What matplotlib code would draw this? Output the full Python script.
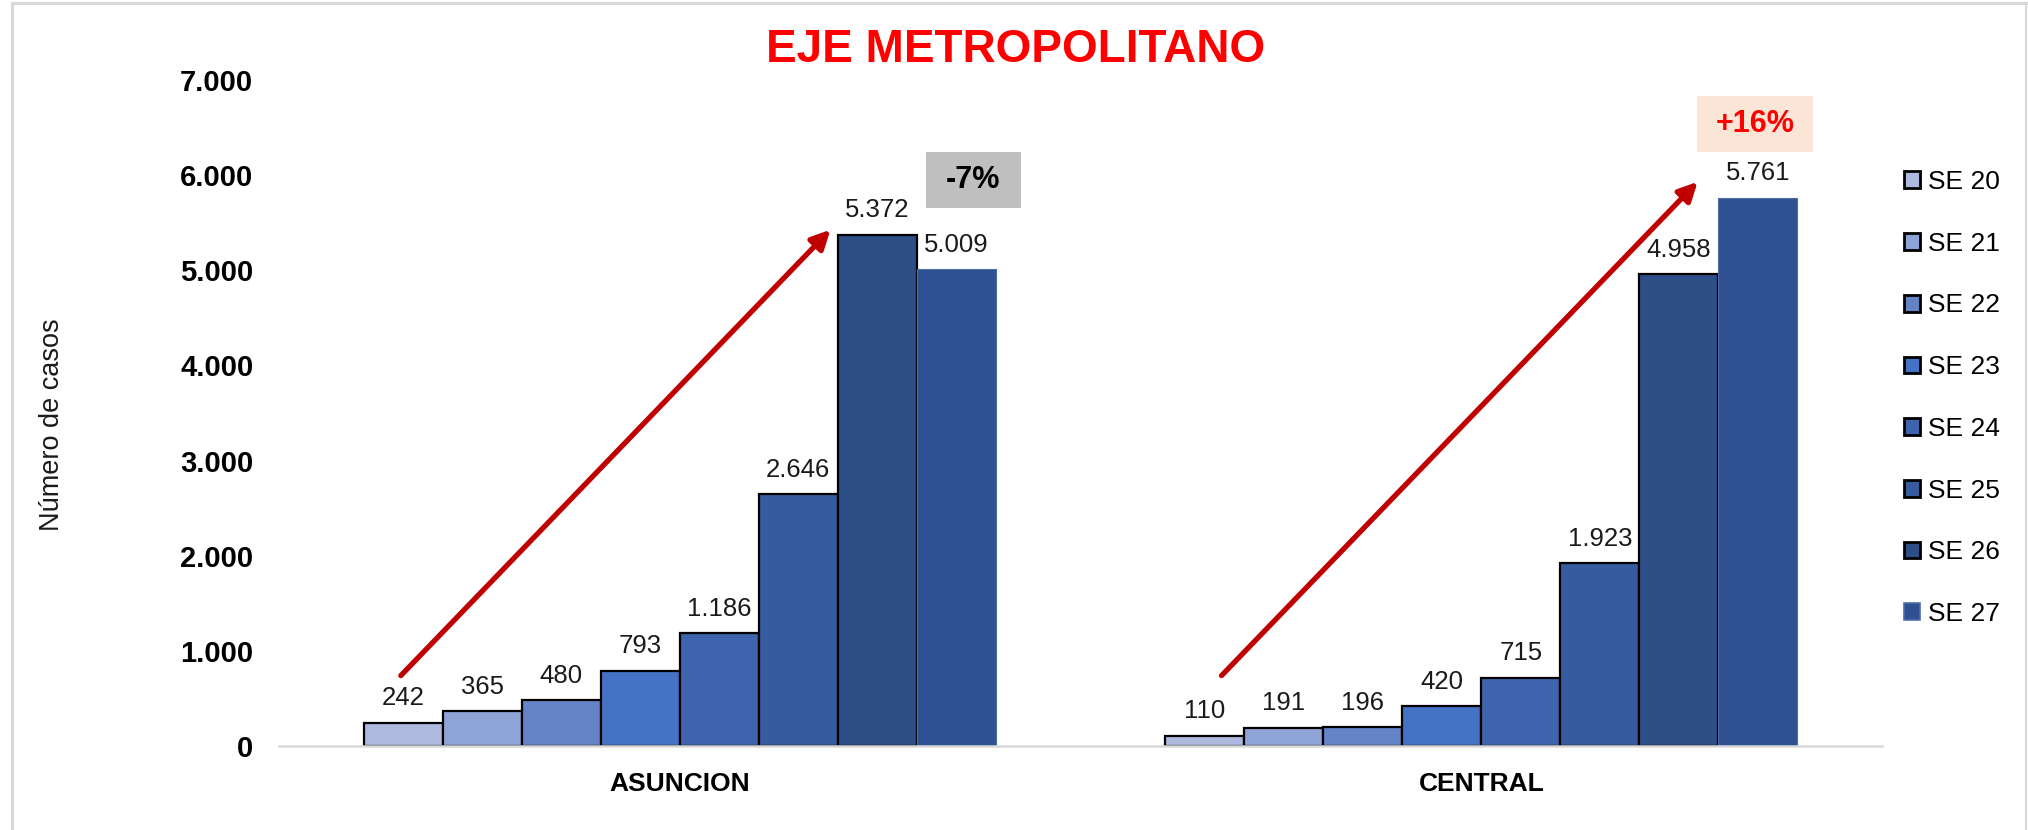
import matplotlib.pyplot as plt
from matplotlib.patches import Patch, Rectangle
from matplotlib.lines import Line2D
import numpy as np

plt.rcParams['font.family'] = ['Liberation Sans', 'DejaVu Sans']

categories = ['ASUNCION', 'CENTRAL']
weeks = ['SE 20', 'SE 21', 'SE 22', 'SE 23', 'SE 24', 'SE 25', 'SE 26', 'SE 27']
asuncion = [242, 365, 480, 793, 1186, 2646, 5372, 5009]
central = [110, 191, 196, 420, 715, 1923, 4958, 5761]
changes = ['-7%', '+16%']

colors = ['#ADB9DF', '#8FA4D6', '#6584C7', '#4472C4', '#3D64AD', '#375B9F', '#2E4E87', '#2F5091']


def fmt(v):
    return f"{int(v):,}".replace(',', '.')


fig = plt.figure(figsize=(20.28, 8.30), dpi=100)
ax = fig.add_axes([279 / 2028, 1 - 746 / 830, (1882 - 279) / 2028, (746 - 80) / 830])

x = np.arange(len(categories))
w = 0.789 / len(weeks)
handles = []
for i, wk in enumerate(weeks):
    vals = [asuncion[i], central[i]]
    pos = x + (i - 3.5) * w
    if i < 7:
        ec, lw = 'black', 1.6
    else:
        ec, lw = '#4F6EA8', 0.8
    ax.bar(pos, vals, width=w, color=colors[i], edgecolor=ec, linewidth=lw, zorder=2)
    for p, v in zip(pos, vals):
        ax.annotate(fmt(v), (p, v), xytext=(0, 9), textcoords='offset points',
                    ha='center', va='bottom', fontsize=18.5, color='#1a1a1a')
    handles.append(Patch(facecolor=colors[i], edgecolor=ec, linewidth=lw + 0.4, label=wk))

ax.set_xlim(-0.5, 1.5)
ax.set_ylim(0, 7000)
ax.set_yticks(range(0, 7001, 1000))
ax.set_yticklabels([fmt(v) for v in range(0, 7001, 1000)], fontsize=21, fontweight='bold')
ax.set_xticks(x)
ax.set_xticklabels(categories, fontsize=19, fontweight='bold')
ax.tick_params(axis='y', length=0, pad=18.5)
ax.tick_params(axis='x', length=0, pad=19)
for s in ['left', 'right', 'top']:
    ax.spines[s].set_visible(False)
ax.spines['bottom'].set_color('#D9D9D9')
ax.spines['bottom'].set_linewidth(1.8)

# y axis title
fig.text(52 / 2028, 1 - 425 / 830, 'Número de casos', rotation=90, ha='center', va='center',
         fontsize=19.5, color='#1a1a1a')

# trend arrows
arrows = [((-0.348, 740), (0.188, 5426)), ((0.676, 740), (1.27, 5930))]
for (x0, y0), (x1, y1) in arrows:
    ax.annotate('', xy=(x1, y1), xytext=(x0, y0),
                arrowprops=dict(arrowstyle='-|>', color='#C00000', lw=3.8,
                                mutation_scale=28, shrinkA=0, shrinkB=0), zorder=3)

# change boxes
boxes = [(0.366, 5952, 95, '#BFBFBF', 'black'), (1.342, 6540, 116, '#FBE5D6', '#FF0000')]
for (bx, by, bw, fc, tc), txt in zip(boxes, changes):
    dw = bw / 801.5
    ax.add_patch(Rectangle((bx - dw / 2, by - 28 / 0.09514), dw, 56 / 0.09514,
                           facecolor=fc, edgecolor='none', zorder=1, clip_on=False))
    ax.text(bx, by, txt, ha='center', va='center', fontsize=22, fontweight='bold',
            color=tc, zorder=4)

fig.text(1016 / 2028, 1 - 50 / 830, 'EJE METROPOLITANO', ha='center', va='center',
         fontsize=33, fontweight='bold', color='#FF0000')

leg = fig.legend(handles=handles, loc='upper left', bbox_to_anchor=(1904 / 2028, 1 - 170 / 830),
                 frameon=False, fontsize=19, handlelength=0.6, handleheight=0.6,
                 handletextpad=0.3, labelspacing=1.43, borderpad=0, borderaxespad=0)

# outer border
fig.add_artist(Line2D([12 / 2028, 12 / 2028], [0, 1 - 3 / 830], color='#D9D9D9', lw=2.2))
fig.add_artist(Line2D([12 / 2028, 2026 / 2028], [1 - 3 / 830, 1 - 3 / 830], color='#D9D9D9', lw=2.2))
fig.add_artist(Line2D([2026 / 2028, 2026 / 2028], [0, 1 - 3 / 830], color='#D9D9D9', lw=1.5))

fig.savefig('out.png', dpi=100, facecolor='white')
